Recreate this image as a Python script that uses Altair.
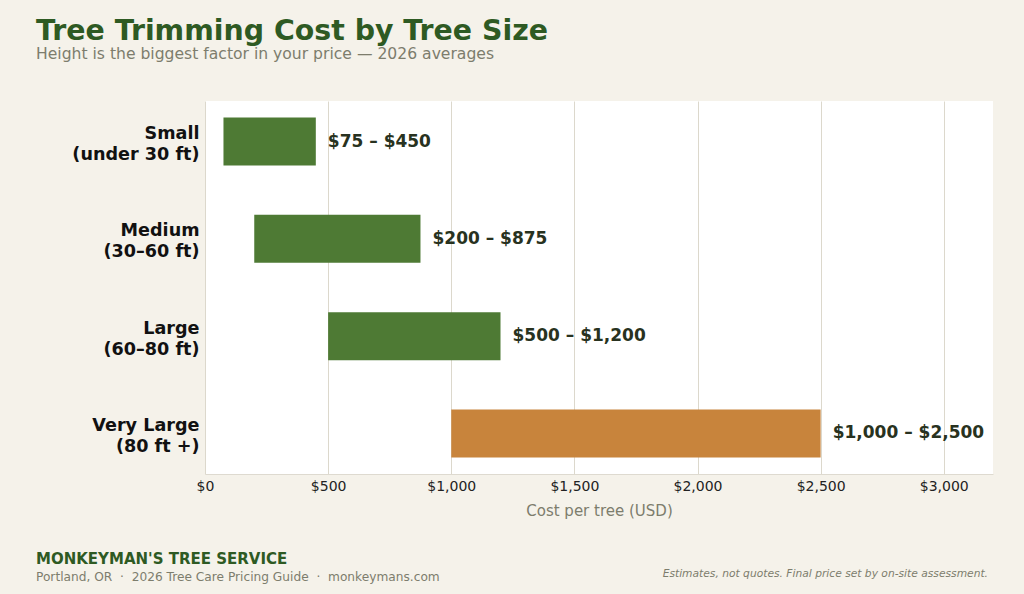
import altair as alt
import pandas as pd

# Price ranges per tree size class
sizes = ["Small", "Medium", "Large", "Very Large"]
heights = ["(under 30 ft)", "(30–60 ft)", "(60–80 ft)", "(80 ft +)"]
low_cost = [75, 200, 500, 1000]
high_cost = [450, 875, 1200, 2500]
bar_colors = ["#4e7a34", "#4e7a34", "#4e7a34", "#c8843c"]

x_ticks = [0, 500, 1000, 1500, 2000, 2500, 3000]

df = pd.DataFrame({
    "size": [f"{s}|{h}" for s, h in zip(sizes, heights)],
    "low": low_cost,
    "high": high_cost,
    "color": bar_colors,
})
df["label"] = [f"${a:,} – ${b:,}" for a, b in zip(low_cost, high_cost)]

FONT = "DejaVu Sans"
order = list(df["size"])

y_enc = alt.Y(
    "size:N",
    sort=order,
    scale=alt.Scale(paddingInner=0.507, paddingOuter=0.17),
    axis=alt.Axis(
        title=None,
        labelExpr="split(datum.label, '|')",
        labelFont=FONT,
        labelFontSize=17.6,
        labelFontWeight="bold",
        labelColor="#111111",
        labelLineHeight=21,
        labelOffset=-7.5,
        labelPadding=6,
        ticks=False,
        domain=False,
        grid=False,
    ),
)

x_enc = alt.X(
    "low:Q",
    scale=alt.Scale(domain=[0, 3200], nice=False, zero=True),
    axis=alt.Axis(
        title="Cost per tree (USD)",
        values=x_ticks,
        labelExpr="'$' + format(datum.value, ',')",
        labelFont=FONT,
        labelFontSize=14,
        labelColor="#222222",
        labelPadding=5,
        labelFlush=False,
        titleFont=FONT,
        titleFontSize=15,
        titleFontWeight="normal",
        titleColor="#7d7d6d",
        titlePadding=10,
        ticks=False,
        domainColor="#dedad0",
        gridColor="#dcd8cc",
        gridWidth=1,
    ),
)

bars = alt.Chart(df).mark_bar(cornerRadius=0).encode(
    x=x_enc,
    x2="high:Q",
    y=y_enc,
    color=alt.Color("color:N", scale=None),
)

labels = alt.Chart(df).mark_text(
    align="left", baseline="middle", dx=12,
    font=FONT, fontSize=17, fontWeight="bold", color="#283220",
).encode(
    x="high:Q",
    y=alt.Y("size:N", sort=order),
    text="label:N",
)

def footer(text, x, y, size, color, weight="normal", style="normal", align="left"):
    return alt.Chart(pd.DataFrame({"t": [text]})).mark_text(
        align=align, baseline="alphabetic", font=FONT, fontSize=size,
        fontWeight=weight, fontStyle=style, color=color,
    ).encode(x=alt.value(x), y=alt.value(y), text="t:N")

sep = "\u00a0\u00a0·\u00a0\u00a0"
brand = footer("MONKEYMAN'S TREE SERVICE", -169, 463, 15, "#2e5a23", weight="bold")
info = footer(f"Portland, OR{sep}2026 Tree Care Pricing Guide{sep}monkeymans.com",
              -169, 480, 12.2, "#7d7d6d")
note = footer("Estimates, not quotes. Final price set by on-site assessment.",
              783, 476, 10.7, "#7d7d6d", style="italic", align="right")

chart = alt.layer(bars, labels, brand, info, note).properties(
    width=788,
    height=373,
    autosize=alt.AutoSizeParams(type="none"),
    padding={"left": 205, "top": 101, "right": 31, "bottom": 120},
    background="#f5f2ea",
    title=alt.TitleParams(
        text="Tree Trimming Cost by Tree Size",
        subtitle="Height is the biggest factor in your price — 2026 averages",
        anchor="start",
        frame="group",
        dx=-169,
        offset=37,
        font=FONT,
        fontSize=28.4,
        fontWeight="bold",
        color="#2e5a23",
        subtitleFont=FONT,
        subtitleFontSize=15.6,
        subtitleColor="#7d7d6d",
        subtitlePadding=1,
    ),
).configure_view(fill="white", stroke=None)

chart.save("out.html", embed_options={"renderer": "svg", "actions": False})
